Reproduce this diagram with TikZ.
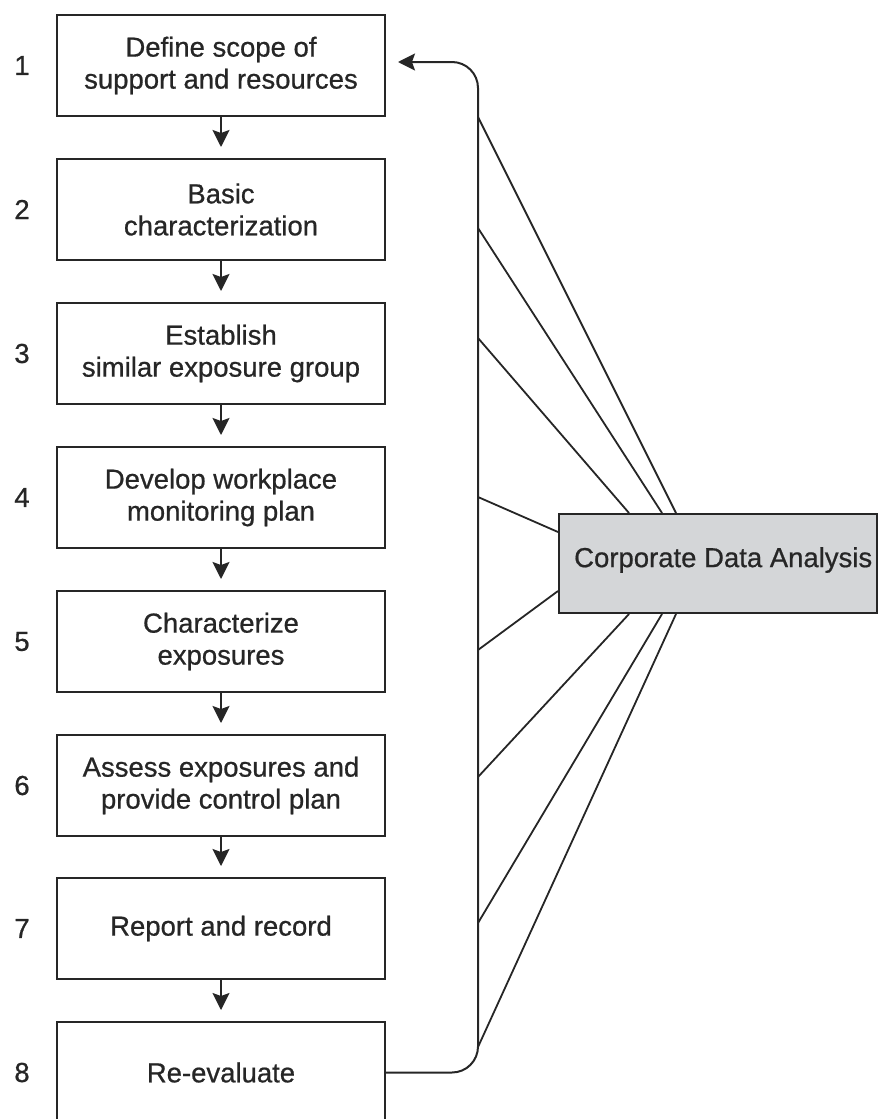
\documentclass[tikz,border=0pt]{standalone}
\usepackage{fontspec}
\setmainfont{Liberation Sans}
\newfontfamily\heavyish{Liberation Sans}[FakeBold=0.7]
\usetikzlibrary{arrows.meta,calc}
\definecolor{ink}{HTML}{262626}
\definecolor{cdafill}{HTML}{D4D6D8}
\tikzset{
  stepbox/.style={draw=ink,line width=2pt,minimum width=328pt,minimum height=101pt,
    align=center,inner sep=0pt,text=ink,font=\heavyish\fontsize{27.5}{32}\selectfont},
  numlabel/.style={text=ink,font=\heavyish\fontsize{27.5}{32}\selectfont,inner sep=0pt},
  flow/.style={draw=ink,line width=2pt,-{Stealth[length=17pt,width=17pt,inset=3pt]}},
  spoke/.style={draw=ink,line width=1.8pt}
}
\begin{document}
\begin{tikzpicture}[x=1pt,y=-1pt]
\useasboundingbox (0,0) rectangle (878,1119);
\clip (0,0) rectangle (878,1119);
% step boxes
\node[stepbox] (b1) at (221,65.5)  {Define scope of\\support and resources};
\node[stepbox] (b2) at (221,209.5) {Basic\\characterization};
\node[stepbox] (b3) at (221,353.5) {Establish\\similar exposure group};
\node[stepbox] (b4) at (221,497.5) {Develop workplace\\monitoring plan};
\node[stepbox] (b5) at (221,641.5) {Characterize\\exposures};
\node[stepbox] (b6) at (221,785.5) {Assess exposures and\\provide control plan};
\node[stepbox] (b7) at (221,928.5) {Report and record};
\node[stepbox] (b8) at (221,1072.5) {Re-evaluate};
% numbers
\node[numlabel] (n1) at (22,65.5)  {1};
\node[numlabel] (n2) at (22,209.5) {2};
\node[numlabel] (n3) at (22,353.5) {3};
\node[numlabel] (n4) at (22,497.5) {4};
\node[numlabel] (n5) at (22,641.5) {5};
\node[numlabel] (n6) at (22,785.5) {6};
\node[numlabel] (n7) at (22,928.5) {7};
\node[numlabel] (n8) at (22,1072.5) {8};
% down arrows
\foreach \a/\b in {b1/b2,b2/b3,b3/b4,b4/b5,b5/b6,b6/b7,b7/b8}
  \draw[flow,shorten >=11pt] (\a.south) -- (\b.north);
% corporate data analysis
\node[draw=ink,line width=2pt,fill=cdafill,minimum width=318pt,minimum height=99pt,inner sep=0pt] (cda) at (718,563.5) {};
\node[anchor=west,text=ink,font=\heavyish\fontsize{27.5}{32}\selectfont,inner sep=0pt] (cdat) at (574,560) {Corporate Data Analysis};
% feedback loop
\draw[flow,rounded corners=26pt,shorten >=12pt] (b8.east) -- (478,1072.5) -- (478,62) -- (b1.east |- 0,62);
% spokes
\coordinate (s1) at (478,117);
\coordinate (s2) at (478,228);
\coordinate (s3) at (478,338);
\coordinate (s4) at (478,497);
\coordinate (s5) at (478,650);
\coordinate (s6) at (478,777);
\coordinate (s7) at (478,923);
\coordinate (s8) at (478,1047);
\draw[spoke] (s1) -- ($(cda.north west)+(118,0)$);
\draw[spoke] (s2) -- ($(cda.north west)+(104,0)$);
\draw[spoke] (s3) -- ($(cda.north west)+(71,0)$);
\draw[spoke] (s4) -- ($(cda.north west)+(0,19)$);
\draw[spoke] (s5) -- ($(cda.south west)+(0,-23)$);
\draw[spoke] (s6) -- ($(cda.south west)+(71,0)$);
\draw[spoke] (s7) -- ($(cda.south west)+(104,0)$);
\draw[spoke] (s8) -- ($(cda.south west)+(118,0)$);
\end{tikzpicture}
\end{document}
